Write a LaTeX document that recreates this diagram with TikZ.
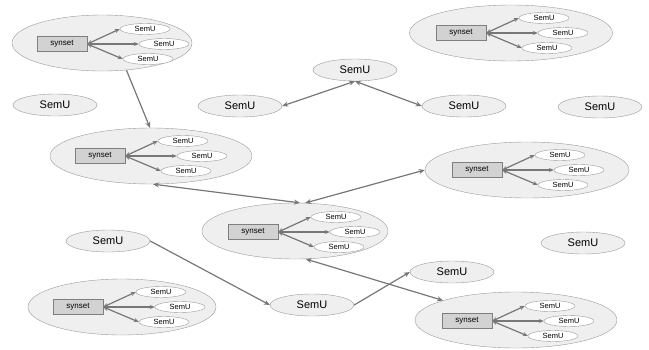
\documentclass[tikz,border=0pt]{standalone}
\usepackage{fontspec}
\setmainfont{Liberation Sans}
\usetikzlibrary{shapes.geometric,arrows.meta}
\definecolor{rimgray}{HTML}{9A9A9A}
\definecolor{groupfill}{HTML}{EFEFEF}
\definecolor{boxfill}{HTML}{D2D2D2}
\definecolor{boxline}{HTML}{7F7F7F}
\definecolor{edgegray}{HTML}{777777}

\begin{document}
\begin{tikzpicture}[
    x=1pt, y=-1pt,
    group/.style={ellipse, draw=rimgray, fill=groupfill, inner sep=0pt, minimum height=56pt},
    synbox/.style={draw=boxline, fill=boxfill, minimum width=50pt, minimum height=15pt, inner sep=0pt, font=\fontsize{8}{9}\selectfont},
    unit/.style={ellipse, draw=rimgray, fill=white, minimum width=50pt, minimum height=11pt, inner sep=0pt, font=\fontsize{7.5}{8}\selectfont},
    semu/.style={ellipse, draw=rimgray, fill=groupfill, minimum width=84pt, minimum height=22pt, inner sep=0pt, font=\fontsize{11}{12}\selectfont},
    inner/.style={edgegray, line width=1.2pt, {Stealth[length=5pt,width=4pt]}-{Stealth[length=5pt,width=4pt]}},
    link/.style={edgegray, line width=1.2pt, -{Stealth[length=6pt,width=5pt]}},
    both/.style={edgegray, line width=1.2pt, {Stealth[length=6pt,width=5pt]}-{Stealth[length=6pt,width=5pt]}}
]
    \useasboundingbox (0,0) rectangle (649,349);

    % synset groups: name / synset x / synset y / ellipse x / ellipse y / ellipse width
    \foreach \g/\sx/\sy/\ex/\ey/\ew in {A/62/44/102/43/180, B/461/33/511/33/203,
        C/100/156/151/156/202, D/253/232/295/231/186, E/477/170/527/170/204,
        F/78/307/122/307/188, G/467/321/516/320/202}{
        \node[group, minimum width=\ew pt] (\g) at (\ex,\ey) {};
        \node[synbox] (\g-syn) at (\sx,\sy) {synset};
        \node[unit] (\g-u1) at (\sx+83,\sy-15) {SemU};
        \node[unit] (\g-u2) at (\sx+102,\sy) {SemU};
        \node[unit] (\g-u3) at (\sx+86,\sy+15) {SemU};
        \foreach \u in {1,2,3}
            \draw[inner] (\g-syn.east) -- (\g-u\u.west);
    }

    % single SemU nodes
    \node[semu] (s1) at (55,105) {SemU};
    \node[semu] (s2) at (355,70) {SemU};
    \node[semu] (s3) at (240,106) {SemU};
    \node[semu] (s4) at (464,106) {SemU};
    \node[semu] (s5) at (600,107) {SemU};
    \node[semu] (s6) at (108,241) {SemU};
    \node[semu] (s7) at (583,243) {SemU};
    \node[semu] (s8) at (312,305) {SemU};
    \node[semu] (s9) at (452,272) {SemU};

    % links
    \draw[link] (A.-48) -- (C.92);
    \draw[both] (C.-86) -- (D.80);
    \draw[both] (D.70) -- (E.west);
    \draw[both] (D.-69) -- (G.165);
    \draw[both] (s2.south) -- (s3.east);
    \draw[both] (s2.south) -- (s4.west);
    \draw[link] (s6.east) -- (s8.west);
    \draw[link] (s8.east) -- (s9.west);
\end{tikzpicture}
\end{document}
